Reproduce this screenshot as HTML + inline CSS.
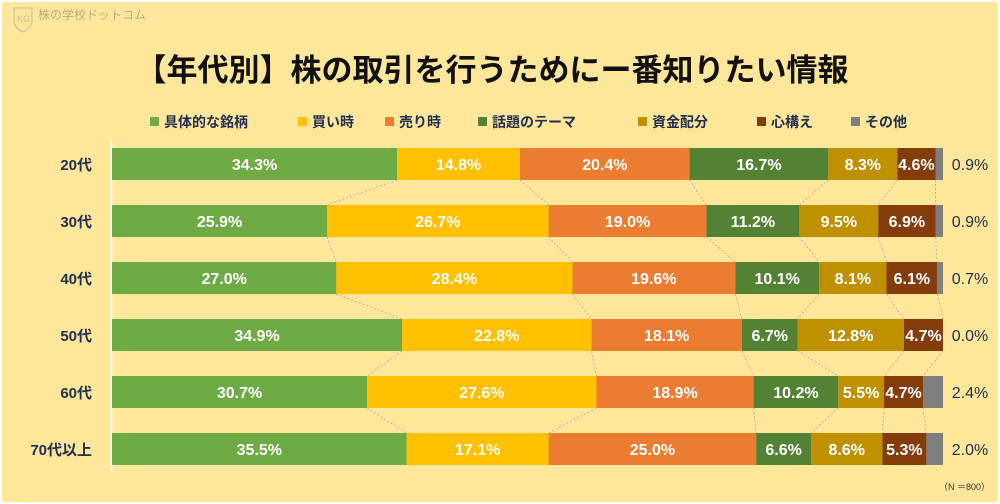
<!DOCTYPE html>
<html><head><meta charset="utf-8"><style>
body{margin:0;width:1000px;height:504px;overflow:hidden;background:#fff;font-family:"Liberation Sans","Noto Sans CJK JP",sans-serif}
#bg{position:absolute;left:2px;top:2px;width:996px;height:500px;background:#fee69a}
</style></head><body>
<div id="bg"></div>
<svg id="c" width="1000" height="504" style="position:absolute;left:0;top:0">
<g opacity="0.45">
<path d="M14 8 L32 8 L32 20 Q32 28 23 32 Q14 28 14 20 Z" fill="none" stroke="#999" stroke-width="1.2"/>
<text x="17" y="22" font-size="9" fill="#888">KG</text>
<text x="38" y="19" font-size="12" fill="#666" font-family="Liberation Sans,Noto Sans CJK JP,sans-serif">株の学校ドットコム</text>
</g>
<text x="492" y="81" text-anchor="middle" font-size="31" font-weight="bold" fill="#111">【年代別】株の取引を行うためにー番知りたい情報</text>
<line x1="111.5" y1="140" x2="111.5" y2="470" stroke="#fff" stroke-width="2"/>
<text x="990" y="490" text-anchor="end" font-size="9" fill="#333">（N ＝800）</text>
</svg>
<script>
const categories=["20代","30代","40代","50代","60代","70代以上"];
const seriesNames=["具体的な銘柄","買い時","売り時","話題のテーマ","資金配分","心構え","その他"];
const s1=[34.3,25.9,27.0,34.9,30.7,35.5];
const s2=[14.8,26.7,28.4,22.8,27.6,17.1];
const s3=[20.4,19.0,19.6,18.1,18.9,25.0];
const s4=[16.7,11.2,10.1,6.7,10.2,6.6];
const s5=[8.3,9.5,8.1,12.8,5.5,8.6];
const s6=[4.6,6.9,6.1,4.7,4.7,5.3];
const s7=[0.9,0.9,0.7,0.0,2.4,2.0];
const colors=["#6fab45","#ffc000","#ec7c30","#548235","#bf9000","#843c0b","#7f7f7f"];
const legendX=[150,298,385,478,638,757,851];
const series=[s1,s2,s3,s4,s5,s6,s7];
const svg=document.getElementById('c');
const NS="http://www.w3.org/2000/svg";
const X0=112,W=831,BH=32,TOP0=148,PITCH=57;
function xs(v,tot){return X0+v/tot*W;}
function rowY(i){return TOP0+i*PITCH;}
function mk(t,a){const e=document.createElementNS(NS,t);for(const k in a)e.setAttribute(k,a[k]);svg.appendChild(e);return e;}
seriesNames.forEach((n,j)=>{
 const r=mk('rect',{x:legendX[j],y:117,width:9,height:9,fill:colors[j]});
 
 
 const t=mk('text',{x:legendX[j]+14,y:127,'font-size':14,fill:'#22304f','font-weight':'bold'});
 t.textContent=n;
 
 
});
const bounds=[];
categories.forEach((c,i)=>{
 let tot=0;series.forEach(s=>tot+=s[i]);
 let acc=0;const b=[];
 const y=rowY(i);
 const lab=mk('text',{x:92,y:y+BH/2+6,'text-anchor':'end','font-size':15,'font-weight':'bold',fill:'#22304f'});
 lab.textContent=c;
 
 
 series.forEach((s,j)=>{
  const x1=xs(acc,tot);acc+=s[i];const x2=xs(acc,tot);b.push(x2);
  const r=mk('rect',{x:x1,y:y,width:Math.max(0,x2-x1),height:BH,fill:colors[j]});
  
  
  const txt=s[i].toFixed(1)+'%';
  if(j<6){
   const t=mk('text',{x:(x1+x2)/2,y:y+BH/2+6,'text-anchor':'middle','font-size':16,'font-weight':'bold',fill:'#fff'});
   t.textContent=txt;
   
   
  }else{
   const t=mk('text',{x:970,y:y+BH/2+6,'text-anchor':'middle','font-size':16,fill:'#22304f'});
   t.textContent=txt;
   
   
  }
 });
 bounds.push(b);
});
for(let i=0;i<categories.length-1;i++){
 for(let j=0;j<6;j++){
  const l=mk('line',{x1:bounds[i][j],y1:rowY(i)+BH,x2:bounds[i+1][j],y2:rowY(i+1),stroke:'#aaa','stroke-width':0.8,'stroke-dasharray':'2,2'});
  
  
 }
}
</script>
</body></html>
